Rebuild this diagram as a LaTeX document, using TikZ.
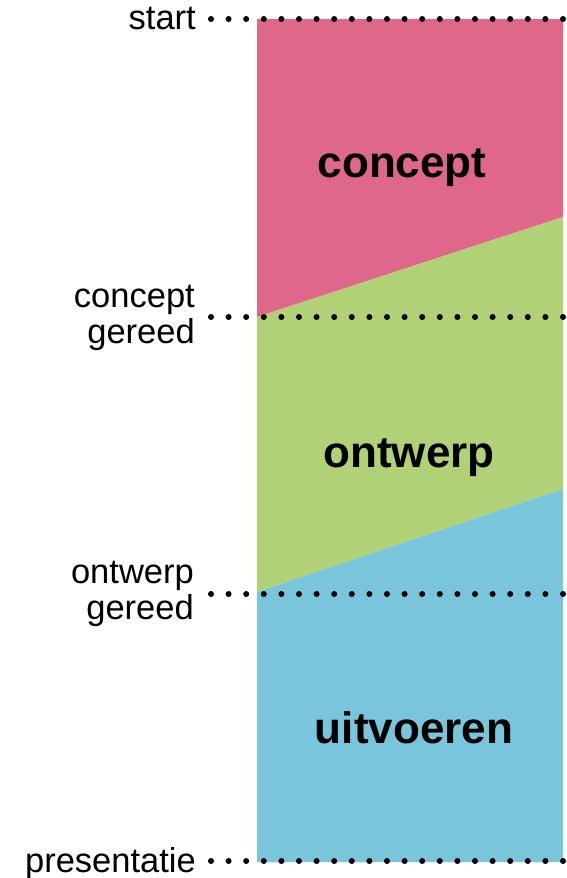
\documentclass[tikz,border=0pt]{standalone}
\usepackage{fontspec}
\setmainfont{Liberation Sans}
\definecolor{pinkc}{HTML}{DF688A}
\definecolor{greenc}{HTML}{B0D175}
\definecolor{bluec}{HTML}{79C6DC}
\tikzset{
  dotline/.style={line width=6pt, line cap=round, dash pattern=on 0pt off 17.6pt},
  sidelabel/.style={inner sep=0pt, align=right, font=\fontsize{34.5}{36}\selectfont},
  phaselabel/.style={inner sep=0pt, font=\fontsize{44}{46}\selectfont\bfseries},
}
\begin{document}
\begin{tikzpicture}[x=1pt,y=-1pt]
\useasboundingbox (0,0) rectangle (566,878);
% phase areas
\fill[pinkc] (257,19) -- (563,19) -- (563,217) -- (257,317) -- cycle;
\fill[greenc] (257,317) -- (563,217) -- (563,489) -- (257,592) -- cycle;
\fill[bluec] (257,592) -- (563,489) -- (563,862) -- (257,862) -- cycle;
% phase names
\node[phaselabel, anchor=base] (concept) at (402,177) {concept};
\node[phaselabel, anchor=base] (ontwerp) at (409,467) {ontwerp};
\node[phaselabel, anchor=base] (uitvoeren) at (414,743) {uitvoeren};
% milestone line ends
\coordinate (s1) at (211,19);   \coordinate (e1) at (563.5,19);
\coordinate (s2) at (211,317);  \coordinate (e2) at (563.5,317);
\coordinate (s3) at (211,594);  \coordinate (e3) at (563.5,594);
\coordinate (s4) at (211,861);  \coordinate (e4) at (563.5,861);
\draw[dotline] (s1) -- (e1);
\draw[dotline] (s2) -- (e2);
\draw[dotline] (s3) -- (e3);
\draw[dotline] (s4) -- (e4);
% milestone labels
\node[sidelabel, anchor=base east] (start) at (196,29) {start};
\node[sidelabel, anchor=east] (cgereed) at (195,318) {concept\\gereed};
\node[sidelabel, anchor=east] (ogereed) at (194,594) {ontwerp\\gereed};
\node[sidelabel, anchor=base east] (pres) at (196,872) {presentatie};
\end{tikzpicture}
\end{document}
